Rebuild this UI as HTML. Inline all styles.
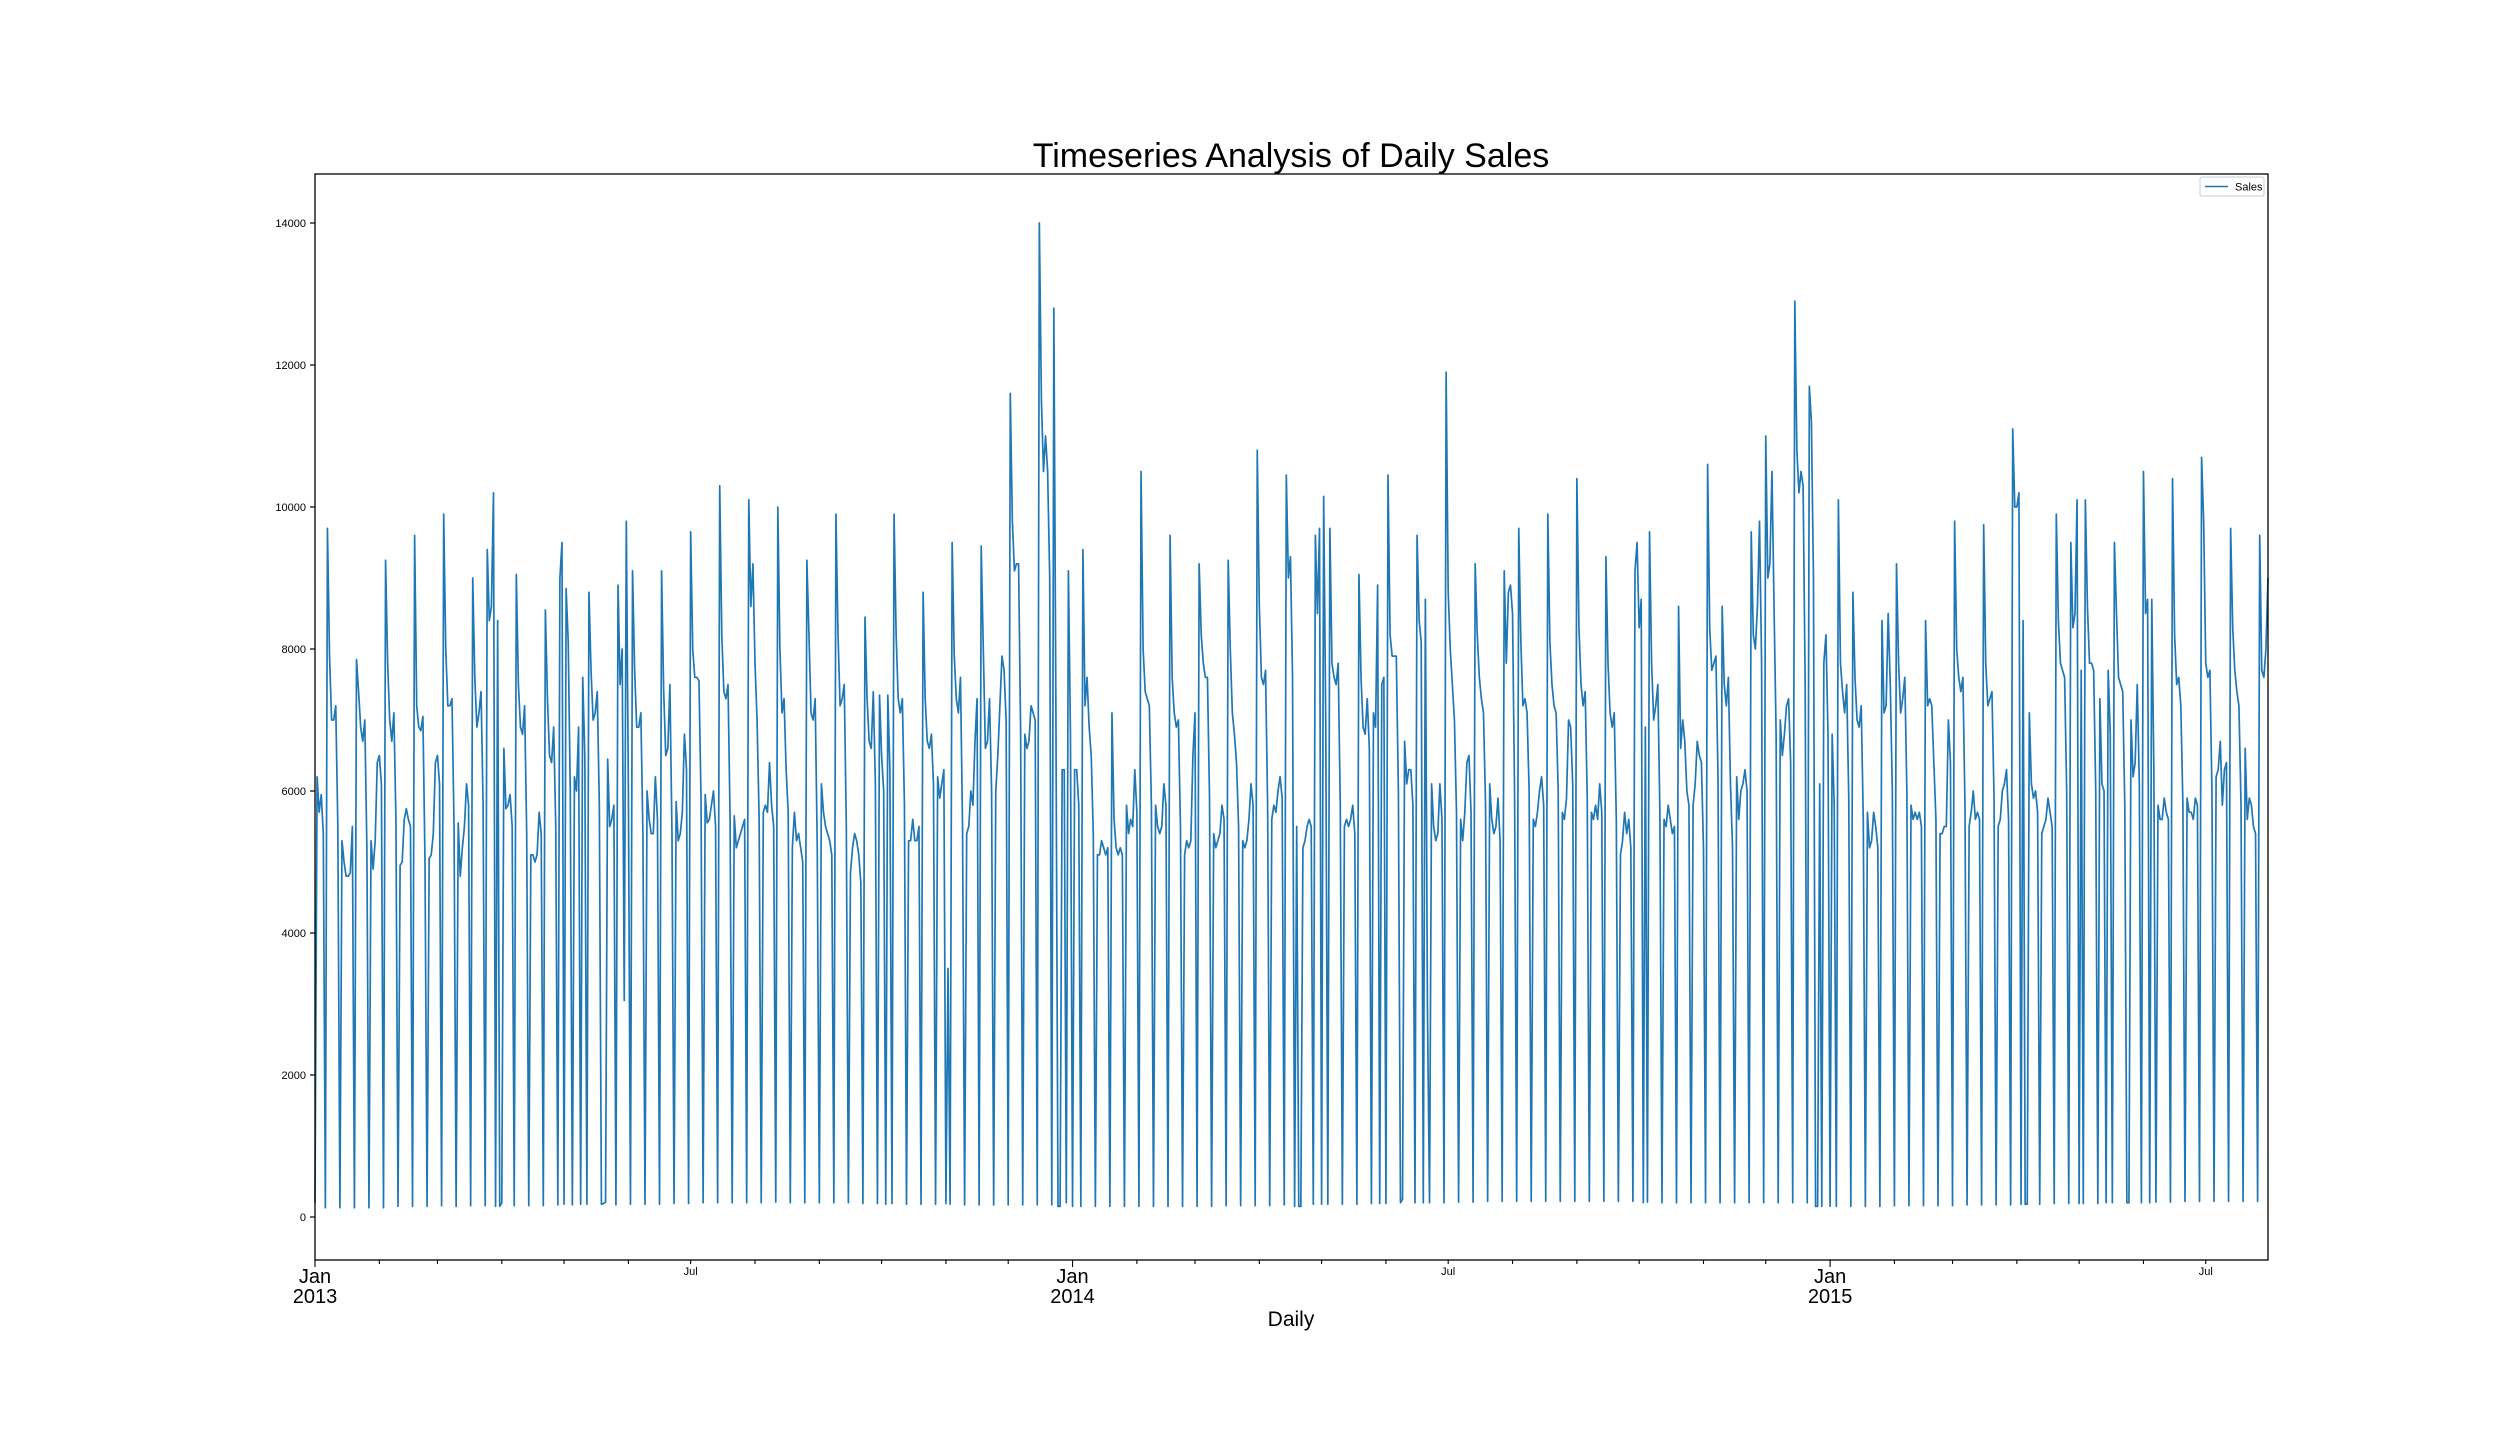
<!DOCTYPE html>
<html>
<head>
<meta charset="utf-8">
<style>
  html,body{margin:0;padding:0;background:#fff;}
  svg{display:block;}
  text{font-family:"Liberation Sans","DejaVu Sans",sans-serif;fill:#000;}
</style>
</head>
<body>
<svg id="chart" width="2520" height="1440" viewBox="0 0 2520 1440">
  <rect x="0" y="0" width="2520" height="1440" fill="#fff"/>
  <text x="1291" y="167" font-size="34" text-anchor="middle">Timeseries Analysis of Daily Sales</text>
  <g id="yaxis"></g>
  <g id="xaxis"></g>
  <g id="series"></g>
  <rect x="315" y="174" width="1953" height="1086" fill="none" stroke="#000" stroke-width="1.3"/>
  <text x="1291" y="1326" font-size="21" text-anchor="middle">Daily</text>
  <g>
    <rect x="2200" y="177" width="64" height="19" fill="#fff" stroke="#ccc" stroke-width="1" rx="2"/>
    <line x1="2205" y1="186.5" x2="2228" y2="186.5" stroke="#1f77b4" stroke-width="1.6"/>
    <text x="2235" y="190.5" font-size="11">Sales</text>
  </g>
</svg>
<script>
const startDate = "2013-01-01";
const yTicks = [0, 2000, 4000, 6000, 8000, 10000, 12000, 14000];
const majorLabels = [["Jan","2013","2013-01-01"],["Jan","2014","2014-01-01"],["Jan","2015","2015-01-01"]];
const minorLabels = [["Jul","2013-07-01"],["Jul","2014-07-01"],["Jul","2015-07-01"]];
const sales = [
200,6200,5700,5950,5400,130,
9700,7900,7000,7000,7200,5500,130,
5300,5000,4800,4800,4850,5500,130,
7850,7400,6900,6700,7000,5200,130,
5300,4900,5300,6400,6500,6100,130,
9250,7800,7000,6700,7100,5600,150,
4950,5000,5600,5750,5600,5500,150,
9600,7200,6900,6850,7050,5000,150,
5050,5100,5400,6400,6500,6100,160,
9900,8000,7200,7200,7300,5500,150,
5550,4800,5200,5500,6100,5800,160,
9000,7600,6900,7100,7400,5800,160,
9400,8400,8600,10200,150,8400,150,
200,6600,5750,5800,5950,5500,160,
9050,7500,6900,6800,7200,5400,160,
5100,5100,5000,5100,5700,5400,160,
8550,7300,6500,6400,6900,5500,170,
9000,9500,180,8850,8100,6000,170,
6200,6000,6900,180,7600,6500,180,
8800,7700,7000,7100,7400,5800,180,
190,210,6450,5500,5600,5800,170,
8900,7500,8000,3050,9800,6000,180,
9100,7700,6900,6900,7100,5400,180,
6000,5600,5400,5400,6200,5600,180,
9100,7400,6500,6600,7500,5400,190,
5850,5300,5400,5700,6800,6300,190,
9650,8000,7600,7600,7550,5900,200,
5950,5550,5600,5800,6000,5500,200,
10300,8200,7400,7300,7500,5600,200,
5650,5200,5300,5400,5500,5600,200,
10100,8600,9200,7800,7000,5600,200,
5700,5800,5700,6400,5800,5500,210,
10000,8000,7100,7300,6300,5700,200,
5200,5700,5300,5400,5200,5000,200,
9250,8200,7100,7000,7300,5200,200,
6100,5700,5500,5400,5300,5100,200,
9900,8200,7200,7300,7500,5500,200,
4850,5200,5400,5300,5100,4700,190,
8450,7300,6700,6600,7400,6100,190,
7350,6500,6000,180,7350,6300,190,
9900,8200,7300,7100,7300,5800,180,
5300,5300,5600,5300,5300,5500,180,
8800,7300,6700,6600,6800,6100,180,
6200,5900,6100,6300,190,3500,180,
9500,7900,7300,7100,7600,5500,170,
5400,5500,6000,5800,6700,7300,170,
9450,8000,6600,6700,7300,6000,170,
6000,6500,7200,7900,7700,7000,170,
11600,9800,9100,9200,9200,6800,170,
6800,6600,6700,7200,7100,7000,170,
14000,11500,10500,11000,10500,9000,170,
12800,7000,150,150,6300,6300,200,
9100,6800,150,6300,6300,5800,150,
9400,7200,7600,6900,6500,5400,150,
5100,5100,5300,5200,5100,5200,150,
7100,5600,5200,5100,5200,5100,150,
5800,5400,5600,5500,6300,5700,150,
10500,8000,7400,7300,7200,5800,150,
5800,5500,5400,5500,6100,5800,150,
9600,7600,7100,6900,7000,5500,150,
5100,5300,5200,5300,6500,7100,150,
9200,8200,7800,7600,7600,5900,150,
5400,5200,5300,5400,5800,5600,160,
9250,8000,7100,6800,6400,5500,160,
5300,5200,5300,5600,6100,5800,160,
10800,8600,7600,7500,7700,5800,160,
5600,5800,5700,6000,6200,5900,170,
10450,9000,9300,7600,150,5500,150,
150,5200,5300,5500,5600,5500,180,
9600,8500,9700,180,10150,7000,180,
9700,7800,7600,7500,7800,5800,180,
5500,5600,5500,5600,5800,5400,180,
9050,7600,6900,6800,7300,6600,190,
7100,6900,8900,190,7500,7600,190,
10450,8200,7900,7900,7900,6000,200,
250,6700,6100,6300,6300,5800,200,
9600,8400,8100,200,8700,2950,200,
6100,5500,5300,5400,6100,5600,200,
11900,8800,8000,7500,7000,5700,210,
5600,5300,5700,6400,6500,5700,210,
9200,8200,7600,7300,7100,5800,220,
6100,5600,5400,5500,5900,5300,220,
9100,7800,8800,8900,8500,5900,220,
9700,8100,7200,7300,7100,6000,220,
5600,5500,5700,6000,6200,5800,220,
9900,8100,7500,7200,7100,6000,220,
5700,5600,5900,7000,6900,6100,220,
10400,8300,7500,7200,7400,5900,220,
5700,5600,5800,5600,6100,5700,220,
9300,7800,7100,6900,7100,5600,220,
5100,5300,5700,5400,5600,5200,220,
9100,9500,8300,8700,200,6900,210,
9650,7800,7000,7200,7500,5700,200,
5600,5500,5800,5600,5400,5500,200,
8600,6600,7000,6700,6000,5800,200,
5800,6100,6700,6500,6400,5200,200,
10600,8300,7700,7800,7900,6200,200,
8600,7500,7200,7600,6100,5200,200,
6200,5600,6000,6100,6300,6000,200,
9650,8200,8000,8600,9800,7800,200,
11000,9000,9200,10500,8600,6800,200,
7000,6500,6800,7200,7300,6400,200,
12900,10800,10200,10500,10300,7500,200,
11700,11200,9000,150,150,6100,150,
7800,8200,6800,150,6800,5800,150,
10100,7800,7400,7100,7500,5900,150,
8800,7600,7000,6900,7200,5600,150,
5700,5200,5300,5700,5500,5200,150,
8400,7100,7200,8500,7500,6000,160,
9200,7800,7100,7300,7600,6000,160,
5800,5600,5700,5600,5700,5500,160,
8400,7200,7300,7200,6400,5600,160,
5400,5400,5500,5500,7000,6400,160,
9800,8000,7600,7400,7600,5800,170,
5500,5700,6000,5600,5700,5600,170,
9750,7800,7200,7300,7400,5900,170,
5500,5600,6000,6100,6300,5600,170,
11100,10000,10000,10200,180,8400,180,
180,7100,6100,5900,6000,5700,180,
5400,5500,5600,5900,5700,5500,190,
9900,8400,7800,7700,7600,6000,190,
9500,8300,8500,10100,190,7700,190,
10100,8600,7800,7800,7700,6000,190,
7300,6100,6000,200,7700,6800,200,
9500,8500,7600,7500,7400,5800,200,
200,7000,6200,6400,7500,6100,200,
10500,8500,8700,200,8700,6300,210,
5800,5600,5600,5900,5700,5600,210,
10400,8200,7500,7600,7200,5800,220,
5900,5700,5700,5600,5900,5800,220,
10700,9800,7800,7600,7700,6000,220,
6200,6300,6700,5800,6300,6400,220,
9700,8300,7700,7400,7200,5800,220,
6600,5600,5900,5800,5500,5400,220,
9600,7700,7600,8000,9000
];

const NS = "http://www.w3.org/2000/svg";
const PL = 315, PR = 2268, PT = 174, PB = 1260;
const Y0PIX = 1217, YSCALE = 0.07100;
const DAY = 86400000;
const t0 = Date.parse(startDate + "T00:00:00Z");
const nDays = sales.length - 1;
function xOfDay(d){ return PL + d * (PR - PL) / nDays; }
function xOfDate(s){ return xOfDay((Date.parse(s + "T00:00:00Z") - t0) / DAY); }
function yOf(v){ return Y0PIX - v * YSCALE; }
function mk(tag, attrs, parent){
  const el = document.createElementNS(NS, tag);
  for (const k in attrs) el.setAttribute(k, attrs[k]);
  parent.appendChild(el);
  return el;
}

const yaxis = document.getElementById("yaxis");
yTicks.forEach(function(v){
  const y = yOf(v);
  const tk = mk("line", {x1: PL - 5, x2: PL, y1: y, y2: y, stroke: "#000", "stroke-width": 1.2}, yaxis);
  
  
  const tx = mk("text", {x: PL - 9, y: y + 4, "font-size": 11, "text-anchor": "end"}, yaxis);
  
  
  tx.textContent = String(v);
});

const xaxis = document.getElementById("xaxis");
for (let yr = 2013; yr <= 2015; yr++) {
  for (let m = 0; m < 12; m++) {
    const ms = Date.UTC(yr, m, 1);
    const d = (ms - t0) / DAY;
    if (d < 0 || d > nDays) continue;
    const x = xOfDay(d);
    const len = (m === 0) ? 7 : 4;
    const tk = mk("line", {x1: x, x2: x, y1: PB, y2: PB + len, stroke: "#000", "stroke-width": 1.1}, xaxis);
    
    
  }
}
majorLabels.forEach(function(l){
  const x = xOfDate(l[2]);
  const t1 = mk("text", {x: x, y: 1283, "font-size": 20, "text-anchor": "middle"}, xaxis);
  
  
  t1.textContent = l[0];
  const t2 = mk("text", {x: x, y: 1303, "font-size": 20, "text-anchor": "middle"}, xaxis);
  
  
  t2.textContent = l[1];
});
minorLabels.forEach(function(l){
  const x = xOfDate(l[1]);
  const t = mk("text", {x: x, y: 1275, "font-size": 11, "text-anchor": "middle"}, xaxis);
  
  
  t.textContent = l[0];
});

const series = document.getElementById("series");
let dstr = "";
sales.forEach(function(v, i){
  dstr += (i === 0 ? "M" : "L") + xOfDay(i).toFixed(2) + "," + yOf(v).toFixed(2);
});
const path = mk("path", {d: dstr, fill: "none", stroke: "#1f77b4", "stroke-width": 1.7, "stroke-linejoin": "round"}, series);


</script>
</body>
</html>
